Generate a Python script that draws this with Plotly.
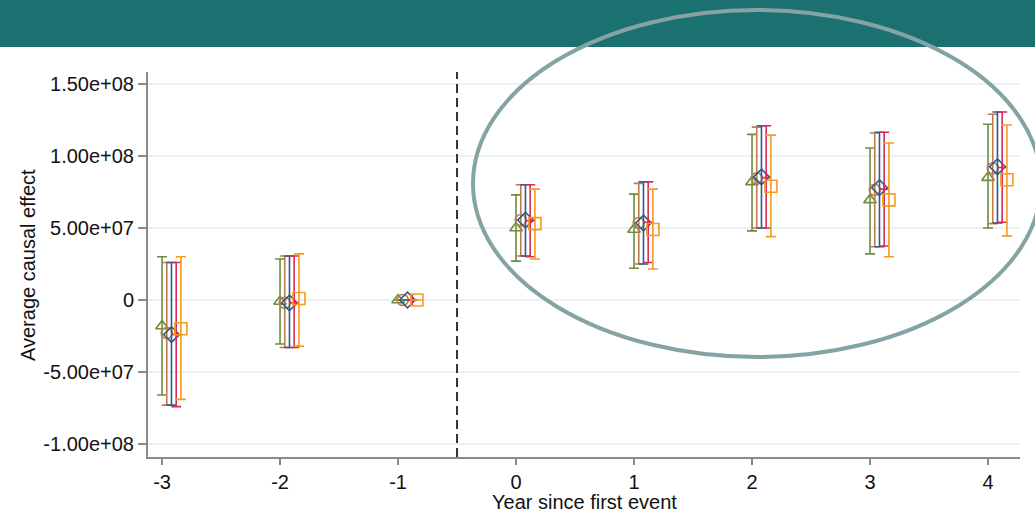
import plotly.graph_objects as go

years = [-3, -2, -1, 0, 1, 2, 3, 4]
series_names = ["Estimator A", "Estimator B", "Estimator C", "Estimator D", "Estimator E"]
offsets = [0.0, 0.04, 0.08, 0.12, 0.16]
colors = ["#6a8f3c", "#c07a4c", "#2f5b8c", "#d62a5c", "#f39c1e"]
symbols = ["triangle-up-open", "circle-open", "diamond-open", "cross-thin-open", "square-open"]
sizes = [11, 11, 12, 7, 12]

est_green = [-1.8e7, -0.1e7, 0, 5.0e7, 4.9e7, 8.2e7, 6.95e7, 8.5e7]
lo_green = [-6.6e7, -3.05e7, 0, 2.7e7, 2.2e7, 4.8e7, 3.2e7, 5.0e7]
hi_green = [3.0e7, 2.85e7, 0, 7.3e7, 7.35e7, 11.5e7, 10.55e7, 12.2e7]

est_brown = [-2.3e7, -0.2e7, 0, 5.55e7, 5.35e7, 8.45e7, 7.65e7, 9.15e7]
lo_brown = [-7.3e7, -3.3e7, 0, 3.05e7, 2.5e7, 5.0e7, 3.7e7, 5.3e7]
hi_brown = [2.6e7, 3.05e7, 0, 8.0e7, 8.1e7, 12.0e7, 11.6e7, 12.9e7]

est_blue = [-2.4e7, -0.2e7, 0, 5.55e7, 5.35e7, 8.55e7, 7.8e7, 9.25e7]
lo_blue = [-7.3e7, -3.3e7, 0, 3.05e7, 2.5e7, 5.0e7, 3.7e7, 5.35e7]
hi_blue = [2.6e7, 3.05e7, 0, 8.0e7, 8.2e7, 12.1e7, 11.65e7, 13.05e7]

est_red = [-2.4e7, -0.2e7, 0, 5.5e7, 5.4e7, 8.5e7, 7.7e7, 9.2e7]
lo_red = [-7.4e7, -3.3e7, 0, 3.0e7, 2.6e7, 5.0e7, 3.75e7, 5.4e7]
hi_red = [2.6e7, 3.05e7, 0, 8.0e7, 8.2e7, 12.1e7, 11.65e7, 13.05e7]

est_orange = [-2.0e7, 0.1e7, 0, 5.3e7, 4.9e7, 7.9e7, 6.95e7, 8.35e7]
lo_orange = [-6.9e7, -3.2e7, 0, 2.85e7, 2.15e7, 4.4e7, 3.0e7, 4.45e7]
hi_orange = [3.0e7, 3.2e7, 0, 7.7e7, 7.7e7, 11.45e7, 10.9e7, 12.15e7]

y_tickvals = [-1.0e8, -5.0e7, 0, 5.0e7, 1.0e8, 1.5e8]
y_ticktext = ["-1.00e+08", "-5.00e+07", "0", "5.00e+07", "1.00e+08", "1.50e+08"]

all_series = [
    (est_green, lo_green, hi_green),
    (est_brown, lo_brown, hi_brown),
    (est_blue, lo_blue, hi_blue),
    (est_red, lo_red, hi_red),
    (est_orange, lo_orange, hi_orange),
]

FONT = "Liberation Sans, Arial, sans-serif"

fig = go.Figure()
for i, (est, lo, hi) in enumerate(all_series):
    xs = [y + offsets[i] for y in years]
    plus = [h - e for h, e in zip(hi, est)]
    minus = [e - l for e, l in zip(est, lo)]
    fig.add_trace(go.Scatter(
        x=xs, y=est, mode="markers", name=series_names[i],
        marker=dict(symbol=symbols[i], size=sizes[i], color=colors[i],
                    line=dict(color=colors[i], width=1.6)),
        error_y=dict(type="data", symmetric=False, array=plus, arrayminus=minus,
                     color=colors[i], thickness=1.6, width=5),
        showlegend=False,
    ))

W, H = 1035, 513
ml, mr, mt, mb = 148, 15, 72, 56
pw = W - ml - mr
ph = H - mt - mb

def px_x(p):
    return (p - ml) / pw

def px_y(p):
    return (H - mb - p) / ph

shapes = [
    dict(type="line", xref="paper", yref="y", x0=0, x1=1, y0=0, y1=0,
         line=dict(color="#8a8a8a", width=1.5), layer="below"),
    dict(type="line", xref="x", yref="paper", x0=-0.5, x1=-0.5, y0=0, y1=1,
         line=dict(color="#333333", width=2, dash="9px,5px")),
    dict(type="rect", xref="paper", yref="paper", x0=px_x(0), x1=px_x(W),
         y0=px_y(47), y1=px_y(0), fillcolor="#1b7170", line=dict(width=0)),
    dict(type="circle", xref="paper", yref="paper", x0=px_x(473), x1=px_x(1041),
         y0=px_y(357), y1=px_y(10), line=dict(color="#86a3a3", width=4),
         fillcolor="rgba(0,0,0,0)"),
]

fig.update_layout(
    width=W, height=H,
    margin=dict(l=ml, r=mr, t=mt, b=mb, autoexpand=False),
    paper_bgcolor="white", plot_bgcolor="white",
    font=dict(family=FONT, size=20, color="#111111"),
    shapes=shapes,
    xaxis=dict(
        range=[-3.119, 4.271], tickvals=years, ticktext=[str(y) for y in years],
        showgrid=False, zeroline=False, showline=True, linecolor="#8a8a8a", linewidth=2,
        ticks="outside", ticklen=6, tickcolor="#8a8a8a", tickwidth=1.5,
        ticklabelstandoff=0,
        tickfont=dict(family=FONT, size=20, color="#111111"),
    ),
    yaxis=dict(
        range=[-1.09e8, 1.583e8], tickvals=y_tickvals, ticktext=y_ticktext,
        showgrid=True, gridcolor="#e9f1f1", gridwidth=1.5, zeroline=False,
        showline=True, linecolor="#8a8a8a", linewidth=2,
        ticks="outside", ticklen=8, tickcolor="#8a8a8a", tickwidth=1.5,
        tickfont=dict(family=FONT, size=20, color="#111111"),
    ),
    annotations=[
        dict(text="Year since first event", xref="paper", yref="paper",
             x=0.5, y=px_y(502), xanchor="center", yanchor="middle", showarrow=False,
             font=dict(family=FONT, size=20, color="#111111")),
        dict(text="Average causal effect", xref="paper", yref="paper",
             x=px_x(28), y=px_y(265), xanchor="center", yanchor="middle", showarrow=False,
             textangle=-90, font=dict(family=FONT, size=20, color="#111111")),
    ],
)

fig.write_html(
    "out.html",
    config={"displayModeBar": False},
    post_script="document.body.style.margin='0';document.body.style.overflow='hidden';",
)
